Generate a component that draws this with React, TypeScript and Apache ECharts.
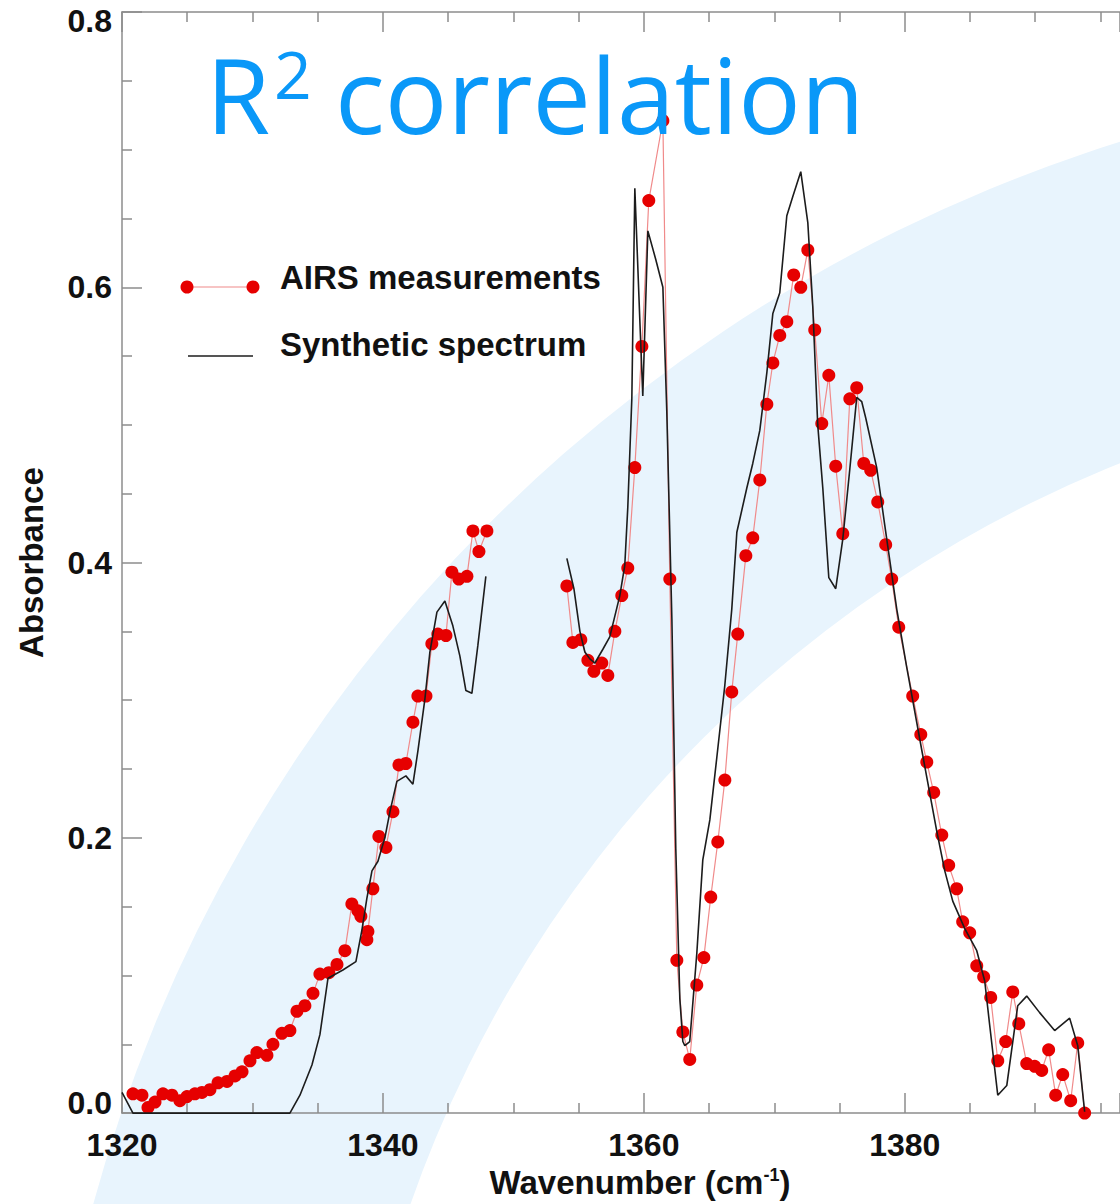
import React, { useEffect, useRef } from "react";
import * as echarts from "echarts";

// ---- data ----
const xTickLabels = ["1320", "1340", "1360", "1380"];
const yTickLabels = ["0.0", "0.2", "0.4", "0.6", "0.8"];

const airsWavenumberA = [1320.84, 1321.53, 1321.99, 1322.53, 1323.14, 1323.83, 1324.44, 1324.98, 1325.59, 1326.13, 1326.74, 1327.36, 1328.05, 1328.66, 1329.2, 1329.81, 1330.34, 1331.11, 1331.57, 1332.26, 1332.87, 1333.41, 1334.02, 1334.64, 1335.17, 1335.86, 1336.48, 1337.09, 1337.62, 1338.08, 1338.31, 1338.77, 1338.85, 1339.23, 1339.69, 1340.23, 1340.77, 1341.23, 1341.76, 1342.3, 1342.68, 1343.3, 1343.75, 1344.21, 1344.83, 1345.29, 1345.82, 1346.44, 1346.9, 1347.36, 1347.97];
const airsAbsorbanceA = [0.014, 0.013, 0.004, 0.008, 0.014, 0.013, 0.009, 0.012, 0.014, 0.015, 0.017, 0.022, 0.023, 0.027, 0.03, 0.038, 0.044, 0.042, 0.05, 0.058, 0.06, 0.074, 0.078, 0.087, 0.101, 0.102, 0.108, 0.118, 0.152, 0.147, 0.143, 0.126, 0.132, 0.163, 0.201, 0.193, 0.219, 0.253, 0.254, 0.284, 0.303, 0.303, 0.341, 0.348, 0.347, 0.393, 0.388, 0.39, 0.423, 0.408, 0.423];

const airsWavenumberB = [1354.1, 1354.56, 1355.17, 1355.71, 1356.17, 1356.78, 1357.24, 1357.78, 1358.31, 1358.77, 1359.31, 1359.85, 1360.38, 1361.46, 1361.99, 1362.53, 1362.99, 1363.52, 1364.06, 1364.6, 1365.13, 1365.67, 1366.21, 1366.74, 1367.2, 1367.82, 1368.35, 1368.89, 1369.43, 1369.89, 1370.42, 1370.96, 1371.49, 1372.03, 1372.57, 1373.1, 1373.64, 1374.18, 1374.71, 1375.25, 1375.79, 1376.32, 1376.86, 1377.39, 1377.93, 1378.54, 1379.0, 1379.54, 1380.61, 1381.23, 1381.69, 1382.22, 1382.84, 1383.37, 1383.98, 1384.44, 1384.98, 1385.52, 1386.05, 1386.59, 1387.13, 1387.74, 1388.28, 1388.74, 1389.35, 1389.96, 1390.5, 1391.03, 1391.57, 1392.11, 1392.72, 1393.26, 1393.79];
const airsAbsorbanceB = [0.383, 0.342, 0.344, 0.329, 0.321, 0.327, 0.318, 0.35, 0.376, 0.396, 0.469, 0.557, 0.663, 0.721, 0.388, 0.111, 0.059, 0.039, 0.093, 0.113, 0.157, 0.197, 0.242, 0.306, 0.348, 0.405, 0.418, 0.46, 0.515, 0.545, 0.565, 0.575, 0.609, 0.6, 0.627, 0.569, 0.501, 0.536, 0.47, 0.421, 0.519, 0.527, 0.472, 0.467, 0.444, 0.413, 0.388, 0.353, 0.303, 0.275, 0.255, 0.233, 0.202, 0.18, 0.163, 0.139, 0.131, 0.107, 0.099, 0.084, 0.038, 0.052, 0.088, 0.065, 0.036, 0.034, 0.031, 0.046, 0.013, 0.028, 0.009, 0.051, 0.0];

const synthWavenumberA = [1320.0, 1320.84, 1332.87, 1333.64, 1334.56, 1335.17, 1335.79, 1336.93, 1337.93, 1338.39, 1338.77, 1339.16, 1339.62, 1340.15, 1340.54, 1341.07, 1341.76, 1342.3, 1342.68, 1343.22, 1343.6, 1344.14, 1344.75, 1345.36, 1345.9, 1346.36, 1346.82, 1347.28, 1347.89];
const synthAbsorbanceA = [0.015, 0.0, 0.0, 0.013, 0.035, 0.057, 0.098, 0.104, 0.11, 0.133, 0.156, 0.176, 0.183, 0.2, 0.219, 0.241, 0.245, 0.239, 0.263, 0.301, 0.335, 0.364, 0.372, 0.354, 0.332, 0.307, 0.305, 0.34, 0.39];

const synthWavenumberB = [1354.1, 1354.64, 1355.1, 1355.48, 1355.86, 1356.25, 1356.86, 1357.39, 1358.16, 1358.54, 1358.77, 1359.08, 1359.31, 1359.69, 1359.92, 1360.31, 1360.92, 1361.46, 1361.76, 1362.15, 1362.45, 1362.76, 1362.99, 1363.14, 1363.52, 1364.06, 1364.52, 1365.06, 1365.59, 1366.21, 1366.74, 1367.13, 1367.89, 1368.35, 1368.89, 1369.43, 1369.89, 1370.42, 1370.96, 1371.42, 1372.03, 1372.57, 1372.95, 1373.33, 1373.72, 1374.18, 1374.71, 1375.25, 1375.79, 1376.32, 1376.7, 1377.01, 1377.85, 1378.47, 1379.39, 1380.15, 1381.3, 1382.45, 1383.07, 1383.68, 1384.6, 1385.52, 1386.13, 1386.51, 1387.13, 1387.82, 1388.66, 1389.35, 1390.34, 1391.49, 1392.64, 1393.26, 1393.79];
const synthAbsorbanceB = [0.403, 0.381, 0.35, 0.335, 0.33, 0.327, 0.337, 0.346, 0.376, 0.398, 0.44, 0.519, 0.672, 0.577, 0.521, 0.641, 0.62, 0.6, 0.51, 0.359, 0.192, 0.083, 0.052, 0.049, 0.052, 0.116, 0.184, 0.213, 0.258, 0.311, 0.366, 0.422, 0.454, 0.472, 0.496, 0.538, 0.581, 0.596, 0.652, 0.666, 0.684, 0.647, 0.586, 0.5, 0.454, 0.389, 0.381, 0.417, 0.468, 0.52, 0.517, 0.505, 0.469, 0.427, 0.366, 0.324, 0.264, 0.205, 0.176, 0.154, 0.134, 0.118, 0.096, 0.064, 0.013, 0.02, 0.078, 0.085, 0.073, 0.06, 0.069, 0.049, 0.001];

const zip = (xs: number[], ys: number[]) => xs.map((x, i) => [x, ys[i]]);

export default function App() {
  const ref = useRef<HTMLDivElement>(null);

  useEffect(() => {
    if (!ref.current) return;
    const chart = echarts.init(ref.current, undefined, { renderer: "svg" });

    const axisColor = "#8c8c8c";
    const labelFont = "'Liberation Sans', Arial, Helvetica, sans-serif";
    const textColor = "#111111";
    const redDot = "#e60000";
    const redLine = "#f08a8a";
    const black = "#1c1c1c";
    const titleBlue = "#0a98f8";

    const baseLabel = { fontSize: 32, fontWeight: "bold" as const, color: textColor, fontFamily: labelFont };

    const commonX = {
      type: "value" as const,
      min: 1320,
      max: 1396.5,
      interval: 20,
      axisLine: { show: true, onZero: false, lineStyle: { color: axisColor, width: 1.5 } },
      axisTick: { show: true, inside: true, length: 20, lineStyle: { color: axisColor, width: 1.5 } },
      minorTick: { show: true, splitNumber: 4, length: 10, lineStyle: { color: axisColor, width: 1.5 } },
      splitLine: { show: false },
    };

    const option: any = {
      animation: false,
      backgroundColor: "#ffffff",
      grid: { left: 122, right: 0, top: 12, bottom: 89, containLabel: false },
      xAxis: [
        {
          ...commonX,
          position: "bottom",
          axisLabel: {
            ...baseLabel,
            margin: 16,
            showMaxLabel: false,
            formatter: (v: number) => {
              const i = Math.round((v - 1320) / 20);
              return Math.abs(v - (1320 + i * 20)) < 1e-6 ? xTickLabels[i] ?? "" : "";
            },
          },
          name: "Wavenumber (cm{sup|-1})",
          nameLocation: "middle",
          nameGap: 52,
          nameTextStyle: {
            ...baseLabel,
            fontSize: 33,
            padding: [0, 0, 0, 38],
            rich: {
              sup: { fontSize: 18, fontWeight: "bold", color: textColor, fontFamily: labelFont, verticalAlign: "top", lineHeight: 16 },
            },
          },
        },
        {
          ...commonX,
          position: "top",
          axisLabel: { show: false },
        },
      ],
      yAxis: {
        type: "value",
        min: 0,
        max: 0.8,
        interval: 0.2,
        axisLine: { show: true, onZero: false, lineStyle: { color: axisColor, width: 1.5 } },
        axisTick: { show: true, inside: true, length: 20, lineStyle: { color: axisColor, width: 1.5 } },
        minorTick: { show: true, splitNumber: 4, length: 10, lineStyle: { color: axisColor, width: 1.5 } },
        splitLine: { show: false },
        axisLabel: {
          ...baseLabel,
          margin: 10,
          formatter: (v: number) => {
            const i = Math.round(v / 0.2);
            const s = yTickLabels[i] ?? "";
            if (i === yTickLabels.length - 1) return "{top|" + s + "}";
            if (i === 0) return "{bot|" + s + "}";
            return s;
          },
          rich: {
            top: { ...baseLabel, padding: [18, 0, 0, 0] },
            bot: { ...baseLabel, padding: [0, 0, 20, 0] },
          },
        },
        name: "Absorbance",
        nameLocation: "middle",
        nameGap: 74,
        nameRotate: 90,
        nameTextStyle: { ...baseLabel, fontSize: 33 },
      },
      graphic: [
        {
          type: "ring",
          silent: true,
          z: -10,
          shape: { cx: 1579, cy: 1613, r: 1541, r0: 1238 },
          style: { fill: "#e8f4fd" },
        },
        {
          type: "text",
          z: 100,
          x: 206,
          y: 93,
          style: { text: "R", fill: titleBlue, fontSize: 104, fontFamily: "'Open Sans', sans-serif", align: "left", verticalAlign: "middle" },
        },
        {
          type: "text",
          z: 100,
          x: 274,
          y: 73,
          style: { text: "2", fill: titleBlue, fontSize: 66, fontFamily: "'Open Sans', sans-serif", align: "left", verticalAlign: "middle" },
        },
        {
          type: "text",
          z: 100,
          x: 335,
          y: 93,
          style: { text: "correlation", fill: titleBlue, fontSize: 104, fontFamily: "'Open Sans', sans-serif", align: "left", verticalAlign: "middle" },
        },
        {
          type: "line",
          z: 50,
          shape: { x1: 187, y1: 287, x2: 253, y2: 287 },
          style: { stroke: redLine, lineWidth: 1.2 },
        },
        { type: "circle", z: 51, shape: { cx: 187, cy: 287, r: 6.5 }, style: { fill: redDot } },
        { type: "circle", z: 51, shape: { cx: 253, cy: 287, r: 6.5 }, style: { fill: redDot } },
        {
          type: "text",
          z: 51,
          x: 280,
          y: 277,
          style: { text: "AIRS measurements", fill: textColor, fontSize: 33, fontWeight: "bold", fontFamily: labelFont, align: "left", verticalAlign: "middle" },
        },
        {
          type: "line",
          z: 50,
          shape: { x1: 188, y1: 356, x2: 253, y2: 356 },
          style: { stroke: black, lineWidth: 1.4 },
        },
        {
          type: "text",
          z: 51,
          x: 280,
          y: 344,
          style: { text: "Synthetic spectrum", fill: textColor, fontSize: 33, fontWeight: "bold", fontFamily: labelFont, align: "left", verticalAlign: "middle" },
        },
      ],
      series: [
        {
          type: "line",
          name: "AIRS measurements",
          data: zip(airsWavenumberA, airsAbsorbanceA),
          symbol: "circle",
          symbolSize: 13,
          showSymbol: true,
          lineStyle: { color: redLine, width: 1.2 },
          itemStyle: { color: redDot },
          z: 3,
        },
        {
          type: "line",
          name: "AIRS measurements",
          data: zip(airsWavenumberB, airsAbsorbanceB),
          symbol: "circle",
          symbolSize: 13,
          showSymbol: true,
          lineStyle: { color: redLine, width: 1.2 },
          itemStyle: { color: redDot },
          z: 3,
        },
        {
          type: "line",
          name: "Synthetic spectrum",
          data: zip(synthWavenumberA, synthAbsorbanceA),
          symbol: "none",
          lineStyle: { color: black, width: 1.6 },
          z: 4,
        },
        {
          type: "line",
          name: "Synthetic spectrum",
          data: zip(synthWavenumberB, synthAbsorbanceB),
          symbol: "none",
          lineStyle: { color: black, width: 1.6 },
          z: 4,
        },
      ],
    };

    chart.setOption(option);
    return () => chart.dispose();
  }, []);

  return (
    <div
      ref={ref}
      style={{ position: "absolute", left: 0, top: 0, width: 1120, height: 1204, background: "#ffffff" }}
    />
  );
}
